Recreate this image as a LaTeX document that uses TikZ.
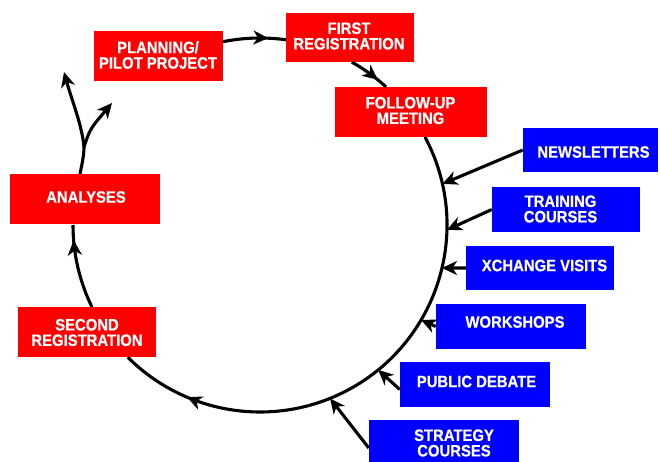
\documentclass[tikz,border=0pt]{standalone}
\usepackage{fontspec}
\newfontfamily\boxfont[FakeStretch=0.9,FakeBold=0.6]{Liberation Sans Bold}
\usetikzlibrary{arrows.meta,decorations.markings}
\tikzset{
  box/.style={rectangle, inner sep=0pt, draw=none},
  redbox/.style={box, fill=red},
  bluebox/.style={box, fill=blue},
  lbl/.style={inner sep=0pt, text=white, align=center,
    font=\boxfont\fontsize{16.5}{15.5}\selectfont},
  tip/.style={-{Stealth[length=15pt,width=14pt,inset=4.5pt]}},
  flow/.style={line width=3.1pt, black},
  mid/.style={postaction={decorate}, decoration={markings,
    mark=at position #1 with {\arrow{Stealth[length=15pt,width=14pt,inset=4.5pt]}}}},
}
\begin{document}
\begin{tikzpicture}[x=1pt,y=1pt]
\useasboundingbox (0,0) rectangle (660,461);
\fill[white] (0,0) rectangle (660,461);
\coordinate (O) at (260,236);
% red boxes
\node[redbox, minimum width=129pt, minimum height=50pt] (plan) at (158.5,405) {};
\node[lbl] (plant) at (158,406) {PLANNING/\\PILOT PROJECT};
\node[redbox, minimum width=128pt, minimum height=49pt] (first) at (350,423) {};
\node[lbl] (firstt) at (349,425) {FIRST\\REGISTRATION};
\node[redbox, minimum width=152pt, minimum height=50pt] (follow) at (411,349) {};
\node[lbl] (followt) at (410.5,350.5) {FOLLOW-UP\\MEETING};
\node[redbox, minimum width=150pt, minimum height=50pt] (anal) at (85,262) {};
\node[lbl] (analt) at (86,264) {ANALYSES};
\node[redbox, minimum width=138pt, minimum height=50pt] (second) at (87,129) {};
\node[lbl] (secondt) at (87,128.5) {SECOND\\REGISTRATION};
% blue boxes
\node[bluebox, minimum width=135pt, minimum height=44pt] (news) at (590.5,311) {};
\node[lbl] (newst) at (593.5,309) {NEWSLETTERS};
\node[bluebox, minimum width=148pt, minimum height=45pt] (train) at (566,251.5) {};
\node[lbl] (traint) at (560.5,252) {TRAINING\\COURSES};
\node[bluebox, minimum width=148pt, minimum height=44pt] (xch) at (540,193) {};
\node[lbl] (xcht) at (544.5,195.5) {XCHANGE VISITS};
\node[bluebox, minimum width=150pt, minimum height=45pt] (work) at (511,134.5) {};
\node[lbl] (workt) at (515,139) {WORKSHOPS};
\node[bluebox, minimum width=150pt, minimum height=45pt] (pd) at (475,76.5) {};
\node[lbl] (pdt) at (476.5,79.5) {PUBLIC DEBATE};
\node[bluebox, minimum width=150pt, minimum height=46pt] (sc) at (444,18) {};
\node[lbl] (sct) at (454,18) {STRATEGY\\COURSES};
% points on the circle
\path (O) ++(101.4:187) coordinate (c1);
\path (O) ++(60.6:187) coordinate (c2);
\path (O) ++(28.1:187) coordinate (c3);
\path (O) ++(206:187) coordinate (c4);
\path (O) ++(12.7:187) coordinate (tn);
\path (O) ++(-1.5:187) coordinate (tt);
\path (O) ++(-13.3:187) coordinate (tx);
\path (O) ++(-30.5:187) coordinate (tw);
\path (O) ++(-50.8:187) coordinate (tp);
\path (O) ++(-68:187) coordinate (ts);
% cycle arcs
\draw[flow, mid=0.72] (c1) arc[start angle=101.4, end angle=82, radius=187];
\draw[flow, mid=0.74] (c2) arc[start angle=60.6, end angle=47.6, radius=187];
\draw[flow, mid=0.865] (c3) arc[start angle=28.1, end angle=-135, radius=187];
\draw[flow, mid=0.82] (c4) arc[start angle=206, end angle=180, radius=187];
% branching arrows from analyses
\coordinate (a0) at (80,287);
\coordinate (aj) at (84,314);
\coordinate (al) at (64,389);
\coordinate (ar) at (112,358);
\draw[flow] (a0) .. controls (82,297) and (84,306) .. (aj);
\draw[flow, tip] (aj) .. controls (82,336) and (72,360) .. (al);
\draw[flow, tip] (aj) .. controls (90,332) .. (ar);
% inputs
\draw[flow, tip] (news.west) -- (tn);
\draw[flow, tip] (train.west) -- (tt);
\draw[flow, tip] (xch.west) -- (tx);
\draw[flow, tip] (work.west) -- (tw);
\draw[flow, tip] ([yshift=-5pt]pd.west) -- (tp);
\draw[flow, tip] ([yshift=-5pt]sc.west) -- (ts);
\end{tikzpicture}
\end{document}
